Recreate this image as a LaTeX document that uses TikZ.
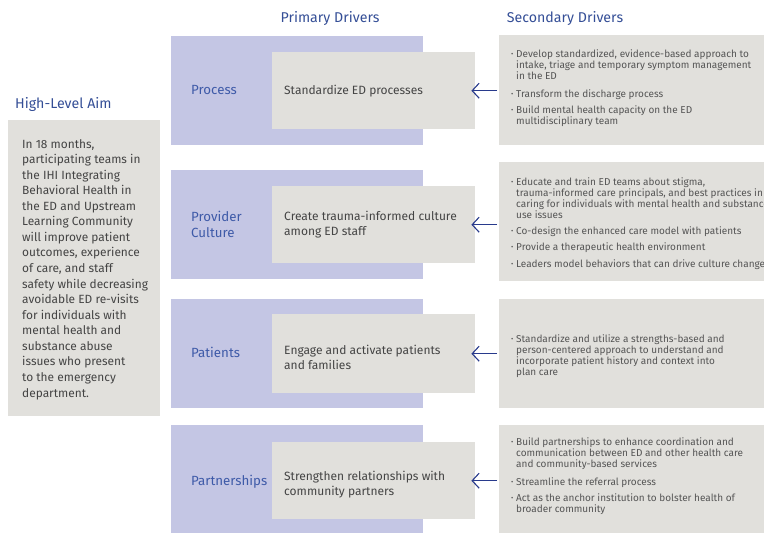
\documentclass[tikz,border=0pt]{standalone}
\usepackage{fontspec}
\setmainfont{Fira Sans}
\usetikzlibrary{arrows.meta}
\definecolor{bluebg}{RGB}{196,198,228}
\definecolor{graybg}{RGB}{225,224,220}
\definecolor{lblblue}{RGB}{62,90,168}
\definecolor{hdrblue}{RGB}{52,78,150}
\definecolor{arrblue}{RGB}{40,58,140}
\definecolor{bodytxt}{RGB}{68,68,68}
\definecolor{sectxt}{RGB}{85,85,85}
\tikzset{
  bluebox/.style={fill=bluebg, draw=none, anchor=north west, inner sep=0pt},
  graybox/.style={fill=graybg, draw=none, anchor=north west, inner sep=0pt},
  hdr/.style={text=hdrblue, font=\fontsize{14.2}{16}\selectfont, anchor=base, inner sep=0pt},
  lbl/.style={text=lblblue, font=\fontsize{13.3}{15.5}\selectfont, anchor=base west, align=left, inner sep=0pt},
  prim/.style={text=bodytxt, font=\fontsize{12}{15.6}\selectfont, anchor=base west, align=left, inner sep=0pt},
  aimtxt/.style={text=bodytxt, font=\fontsize{11.9}{15.56}\selectfont, anchor=base west, align=left, inner sep=0pt},
  sec/.style={text=sectxt, font=\fontsize{10}{11}\selectfont, anchor=base west, align=left, inner sep=0pt},
  arr/.style={draw=arrblue, line width=1.1pt, -{Straight Barb[length=7pt, width=15pt]}, shorten >=-4pt, shorten <=2pt}
}
\newcommand{\bu}{\makebox[5pt][l]{\fontsize{7}{7}\selectfont\raisebox{0.3pt}{\textbullet}}}
\newcommand{\ind}{\hspace*{5pt}}
\begin{document}
\begin{tikzpicture}[x=1pt, y=-1pt]
\useasboundingbox (0,0) rectangle (764,533);
\clip (0,0) rectangle (764,533);

% headers
\node[hdr] (hp) at (330,22) {Primary Drivers};
\node[hdr] (hs) at (565,22) {Secondary Drivers};
\node[hdr, anchor=base west] (ha) at (15,108) {High-Level Aim};

% aim box
\node[graybox, minimum width=152pt, minimum height=296pt] (aim) at (8,120) {};
\node[aimtxt] (aimt) at (22,397) {In 18 months,\\participating teams in\\the IHI Integrating\\Behavioral Health in\\the ED and Upstream\\Learning Community\\will improve patient\\outcomes, experience\\of care, and staff\\safety while decreasing\\avoidable ED re-visits\\for individuals with\\mental health and\\substance abuse\\issues who present\\to the emergency\\department.};

% primary blue boxes
\node[bluebox, minimum width=252pt, minimum height=109pt] (b1) at (171,36) {};
\node[bluebox, minimum width=252pt, minimum height=109pt] (b2) at (171,170) {};
\node[bluebox, minimum width=252pt, minimum height=109pt] (b3) at (171,299) {};
\node[bluebox, minimum width=252pt, minimum height=115pt] (b4) at (171,425) {};

% secondary boxes
\node[graybox, minimum width=300pt, minimum height=110pt] (s1) at (499,35) {};
\node[graybox, minimum width=300pt, minimum height=119pt] (s2) at (499,162) {};
\node[graybox, minimum width=300pt, minimum height=109pt] (s3) at (499,299) {};
\node[graybox, minimum width=300pt, minimum height=115pt] (s4) at (499,425) {};

% primary gray boxes
\node[graybox, minimum width=203pt, minimum height=77pt] (g1) at (272,52) {};
\node[graybox, minimum width=203pt, minimum height=77pt] (g2) at (272,186) {};
\node[graybox, minimum width=203pt, minimum height=79pt] (g3) at (272,314) {};
\node[graybox, minimum width=203pt, minimum height=77pt] (g4) at (272,442) {};

% labels
\node[lbl] (l1) at (191,94.5) {Process};
\node[lbl] (l2) at (191,237) {Provider\\Culture};
\node[lbl] (l3) at (191,357.5) {Patients};
\node[lbl] (l4) at (191,485.5) {Partnerships};

% primary texts
\node[prim] (t1) at (284,94) {Standardize ED processes};
\node[prim] (t2) at (284,235.6) {Create trauma-informed culture\\among ED staff};
\node[prim] (t3) at (284,369.6) {Engage and activate patients\\and families};
\node[prim] (t4) at (284,495.6) {Strengthen relationships with\\community partners};

% secondary texts
\node[sec] (s1a) at (511,79) {\bu Develop standardized, evidence-based approach to\\\ind intake, triage and temporary symptom management\\\ind in the ED};
\node[sec] (s1b) at (511,97) {\bu Transform the discharge process};
\node[sec] (s1c) at (511,124) {\bu Build mental health capacity on the ED\\\ind multidisciplinary team};

\node[sec] (s2a) at (511,218) {\bu Educate and train ED teams about stigma,\\\ind trauma-informed care principals, and best practices in\\\ind caring for individuals with mental health and substance\\\ind use issues};
\node[sec] (s2b) at (511,234) {\bu Co-design the enhanced care model with patients};
\node[sec] (s2c) at (511,250) {\bu Provide a therapeutic health environment};
\node[sec] (s2d) at (511,267) {\bu Leaders model behaviors that can drive culture change};

\node[sec] (s3a) at (511,375) {\bu Standardize and utilize a strengths-based and\\\ind person-centered approach to understand and\\\ind incorporate patient history and context into\\\ind plan care};

\node[sec] (s4a) at (511,467) {\bu Build partnerships to enhance coordination and\\\ind communication between ED and other health care\\\ind and community-based services};
\node[sec] (s4b) at (511,485) {\bu Streamline the referral process};
\node[sec] (s4c) at (511,512) {\bu Act as the anchor institution to bolster health of\\\ind broader community};

% arrows
\draw[arr] (s1.west |- g1.east) -- (g1.east);
\draw[arr] (s2.west |- g2.east) -- (g2.east);
\draw[arr] (s3.west |- g3.east) -- (g3.east);
\draw[arr] (s4.west |- g4.east) -- (g4.east);
\end{tikzpicture}
\end{document}
